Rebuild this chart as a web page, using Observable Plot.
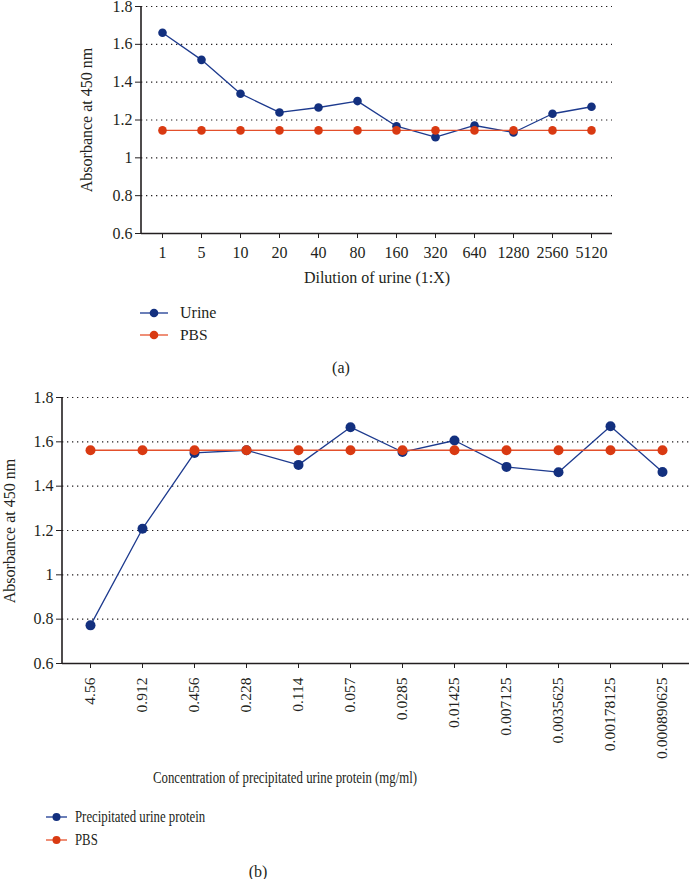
<!DOCTYPE html>
<html>
<head>
<meta charset="utf-8">
<script src="https://cdn.jsdelivr.net/npm/d3@7"></script>
<script src="https://cdn.jsdelivr.net/npm/@observablehq/plot@0.6"></script>
<style>
  html, body { margin: 0; padding: 0; background: #fff; }
  #page { position: relative; width: 690px; height: 879px; font-family: "Liberation Serif", "DejaVu Serif", serif; color: #231f20; overflow: hidden; }
  .abs { position: absolute; }
  .lbl { position: absolute; white-space: nowrap; line-height: 1; }
</style>
</head>
<body>
<div id="page">
  <div id="chartA" class="abs" style="left:0;top:0;"></div>
  <div id="chartB" class="abs" style="left:0;top:386px;"></div>
</div>
<script>
// ---------- Data ----------
const dilutions = ["1", "5", "10", "20", "40", "80", "160", "320", "640", "1280", "2560", "5120"];
const urineValues = [1.661, 1.518, 1.339, 1.240, 1.266, 1.300, 1.167, 1.109, 1.171, 1.134, 1.233, 1.270];
const pbsValuesA = [1.145, 1.145, 1.145, 1.145, 1.145, 1.145, 1.145, 1.145, 1.145, 1.145, 1.145, 1.145];

const concentrations = ["4.56", "0.912", "0.456", "0.228", "0.114", "0.057", "0.0285", "0.01425", "0.007125", "0.0035625", "0.00178125", "0.000890625"];
const proteinValues = [0.772, 1.208, 1.550, 1.562, 1.496, 1.666, 1.554, 1.606, 1.487, 1.463, 1.670, 1.464];
const pbsValuesB = [1.562, 1.562, 1.562, 1.562, 1.562, 1.562, 1.562, 1.562, 1.562, 1.562, 1.562, 1.562];

const yTicks = [0.6, 0.8, 1.0, 1.2, 1.4, 1.6, 1.8];
const gridTicks = [0.8, 1.0, 1.2, 1.4, 1.6, 1.8];

const seriesA = ["Urine", "PBS"];
const seriesB = ["Precipitated urine protein", "PBS"];
const yLabel = "Absorbance at 450 nm";
const xLabelA = "Dilution of urine (1:X)";
const xLabelB = "Concentration of precipitated urine protein (mg/ml)";

const BLUE = "#13307f";
const BLUE_LINE = "#1d3a8e";
const RED = "#d93a12";
const RED_LINE = "#e3502c";
const INK = "#231f20";

// ---------- Tables ----------
const tableA_urine = dilutions.map((d, i) => ({x: d, y: urineValues[i]}));
const tableA_pbs = dilutions.map((d, i) => ({x: d, y: pbsValuesA[i]}));
const tableB_prot = concentrations.map((d, i) => ({x: d, y: proteinValues[i]}));
const tableB_pbs = concentrations.map((d, i) => ({x: d, y: pbsValuesB[i]}));

const fontStyle = {fontFamily: "Liberation Serif, DejaVu Serif, serif", fontSize: "16px", color: INK, background: "transparent", overflow: "visible"};

// ---------- Chart A ----------
const chartA = Plot.plot({
  width: 690,
  height: 290,
  marginTop: 6,
  marginBottom: 57,
  marginLeft: 141,
  marginRight: 78,
  style: fontStyle,
  x: {type: "point", domain: dilutions, padding: 0.5},
  y: {domain: [0.6, 1.8]},
  marks: [
    Plot.gridY(gridTicks, {stroke: INK, strokeOpacity: 1, strokeWidth: 1.1, strokeDasharray: "1.3,3.7"}),
    Plot.axisY(yTicks, {tickSize: 6, tickPadding: 3, fontSize: 16, label: null, tickFormat: d3.format("~g")}),
    Plot.axisX({tickSize: 5, tickPadding: 8, fontSize: 16, label: null}),
    Plot.ruleY([0.6], {stroke: INK, strokeWidth: 1.6}),
    Plot.line(tableA_urine, {x: "x", y: "y", stroke: BLUE_LINE, strokeWidth: 1.3}),
    Plot.dot(tableA_urine, {x: "x", y: "y", r: 4.3, fill: BLUE, stroke: "none"}),
    Plot.line(tableA_pbs, {x: "x", y: "y", stroke: RED_LINE, strokeWidth: 1.4}),
    Plot.dot(tableA_pbs, {x: "x", y: "y", r: 4.3, fill: RED, stroke: "none"})
  ]
});
document.getElementById("chartA").appendChild(chartA);

// ---------- Chart B ----------
const chartB = Plot.plot({
  width: 690,
  height: 300,
  marginTop: 11,
  marginBottom: 23,
  marginLeft: 62,
  marginRight: 1,
  style: fontStyle,
  x: {type: "point", domain: concentrations, padding: 0.5},
  y: {domain: [0.6, 1.8]},
  marks: [
    Plot.gridY(gridTicks, {stroke: INK, strokeOpacity: 1, strokeWidth: 1.1, strokeDasharray: "1.3,3.7"}),
    Plot.axisY(yTicks, {tickSize: 6, tickPadding: 3, fontSize: 16, label: null, tickFormat: d3.format("~g")}),
    Plot.axisX({tickSize: 5, tickPadding: 9, fontSize: 15.5, tickRotate: -90, label: null}),
    Plot.ruleY([0.6], {stroke: INK, strokeWidth: 1.6}),
    Plot.line(tableB_prot, {x: "x", y: "y", stroke: BLUE_LINE, strokeWidth: 1.3}),
    Plot.dot(tableB_prot, {x: "x", y: "y", r: 5, fill: BLUE, stroke: "none"}),
    Plot.line(tableB_pbs, {x: "x", y: "y", stroke: RED_LINE, strokeWidth: 1.4}),
    Plot.dot(tableB_pbs, {x: "x", y: "y", r: 5, fill: RED, stroke: "none"})
  ]
});
document.getElementById("chartB").appendChild(chartB);

// left axis lines, placed from the chart's own scales
function addLeftAxisLine(chart) {
  const [y0, y1] = chart.scale("y").range;
  const x0 = chart.scale("x").range[0];
  const line = document.createElementNS("http://www.w3.org/2000/svg", "line");
  line.setAttribute("x1", x0); line.setAttribute("x2", x0);
  line.setAttribute("y1", y0); line.setAttribute("y2", y1);
  line.setAttribute("stroke", INK); line.setAttribute("stroke-width", 1.6);
  chart.appendChild(line);
}
addLeftAxisLine(chartA);
addLeftAxisLine(chartB);

// ---------- HTML labels, legends, captions ----------
const page = document.getElementById("page");
const ns = "http://www.w3.org/2000/svg";

function label(text, cx, cy, size, opts = {}) {
  const d = document.createElement("div");
  d.className = "lbl";
  d.style.left = cx + "px"; d.style.top = cy + "px";
  d.style.fontSize = size + "px";
  d.textContent = text;
  let t = "translate(-50%, -50%)";
  if (opts.rotate) t += " rotate(" + opts.rotate + "deg)";
  if (opts.squeeze) t += " scaleX(" + opts.squeeze + ")";
  d.style.transform = t;
  page.appendChild(d);
}

function legendRow(text, color, lineColor, x0, x1, cy, r, textLeft, size, squeeze) {
  const s = document.createElementNS(ns, "svg");
  s.setAttribute("width", x1 - x0); s.setAttribute("height", 14);
  s.style.position = "absolute"; s.style.left = x0 + "px"; s.style.top = (cy - 7) + "px";
  const l = document.createElementNS(ns, "line");
  l.setAttribute("x1", 0); l.setAttribute("x2", x1 - x0); l.setAttribute("y1", 7); l.setAttribute("y2", 7);
  l.setAttribute("stroke", lineColor); l.setAttribute("stroke-width", 1.5);
  const c = document.createElementNS(ns, "circle");
  c.setAttribute("cx", (x1 - x0) / 2); c.setAttribute("cy", 7); c.setAttribute("r", r); c.setAttribute("fill", color);
  s.appendChild(l); s.appendChild(c);
  page.appendChild(s);
  const t = document.createElement("div");
  t.className = "lbl";
  t.textContent = text;
  t.style.left = textLeft + "px"; t.style.top = cy + "px";
  t.style.fontSize = size + "px";
  t.style.transformOrigin = "left center";
  t.style.transform = "translateY(-50%)" + (squeeze ? " scaleX(" + squeeze + ")" : "");
  page.appendChild(t);
}

// axis titles
label(yLabel, 87, 120, 16, {rotate: -90});
label(xLabelA, 377, 278, 16);
label(yLabel, 10, 531, 16, {rotate: -90});
label(xLabelB, 285, 778, 16, {squeeze: 0.8});

// legends
legendRow(seriesA[0], BLUE, "#3a55a0", 140, 168, 313, 4.3, 180, 16, null);
legendRow(seriesA[1], RED, "#ea6a4a", 140, 168, 335, 4.3, 180, 15.5, null);
legendRow(seriesB[0], BLUE, "#3a55a0", 46, 67, 817, 4, 75, 16, 0.8);
legendRow(seriesB[1], RED, "#ea6a4a", 46, 67, 840, 4, 75, 16, 0.8);

// panel captions
label("(a)", 341, 368, 16);
label("(b)", 258, 872, 16);
</script>
</body>
</html>
